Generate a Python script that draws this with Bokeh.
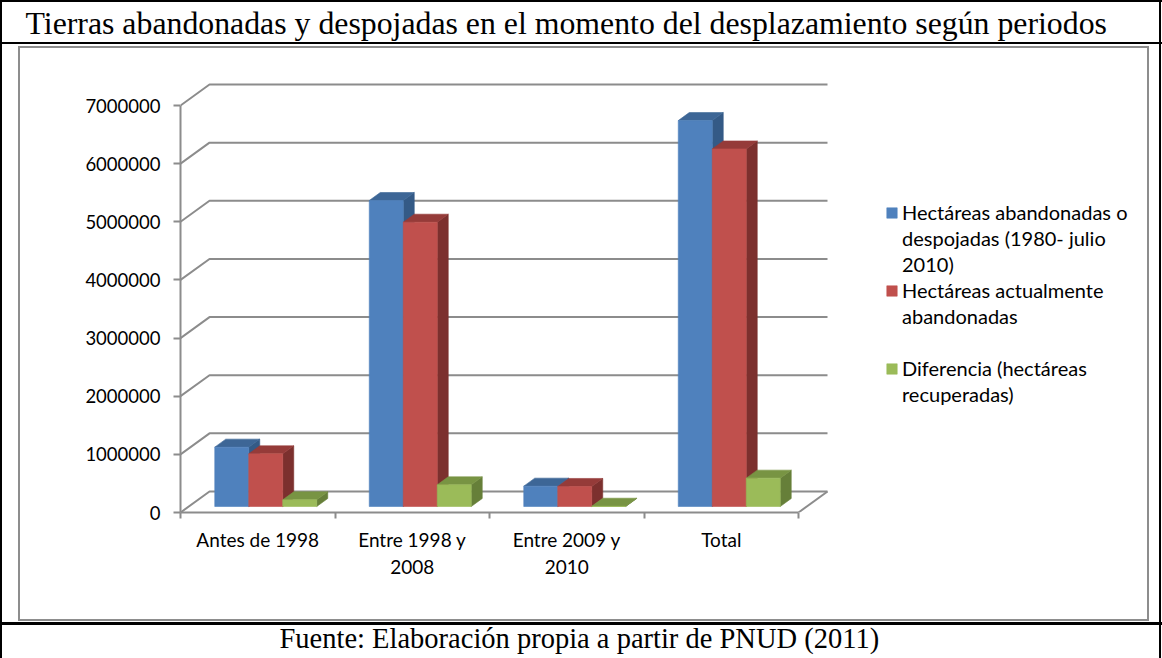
from bokeh.plotting import figure
from bokeh.models import (Range1d, FixedTicker, NumeralTickFormatter, Legend, LegendItem,
                          ColumnDataSource, Title)
from bokeh.embed import file_html
from bokeh.resources import INLINE

# ---------------- data ----------------
title_text = "Tierras abandonadas y despojadas en el momento del desplazamiento según periodos"
source_text = "Fuente: Elaboración propia a partir de PNUD (2011)"

categories = ["Antes de 1998", "Entre 1998 y\n2008", "Entre 2009 y\n2010", "Total"]
abandonadas = [1021000, 5263000, 350000, 6638000]
actuales = [906000, 4890000, 345000, 6150000]
diferencia = [115000, 373000, 5000, 488000]
y_ticks = [0, 1000000, 2000000, 3000000, 4000000, 5000000, 6000000, 7000000]

legend_blue = ["Hectáreas abandonadas o", "despojadas (1980- julio", "2010)"]
legend_red = ["Hectáreas actualmente", "abandonadas", " "]
legend_green = ["Diferencia (hectáreas", "recuperadas)"]

# ---------------- layout constants (pixels) ----------------
W, H = 1162, 658
FL, FR, FT, FB = 180, 1146, 44, 512          # frame edges
PX_PER_CAT = 154.5
PX_PER_UNIT = 58.14e-6

def dx(px):
    return px / PX_PER_CAT

def dy(px):
    return px / PX_PER_UNIT

XMAX = (FR - FL) / PX_PER_CAT
YMAX = (FB - FT) / PX_PER_UNIT
n = len(categories)

GRID = "#8c8c8c"
FONT = "Lato"

p = figure(width=W, height=H, output_backend="svg", toolbar_location=None,
           x_range=Range1d(0, XMAX), y_range=Range1d(0, YMAX),
           min_border_left=FL, min_border_right=W - FR,
           min_border_top=FT, min_border_bottom=H - FB)
p.outline_line_color = None
p.xgrid.visible = False
p.ygrid.visible = False
p.background_fill_color = None
p.border_fill_color = None

# table frame of the document (black) and chart area border (grey), drawn as page styling
rules = [
    (0, 0, 2, H, "#000000"),
    (0, 0, W, 2, "#000000"),
    (1159, 0, 2, H, "#000000"),
    (0, 42, W, 2, "#000000"),
    (0, 622, W, 3, "#000000"),
    (18, 46, 1131, 2, "#8d8d8d"),
    (18, 619, 1131, 2, "#8d8d8d"),
    (18, 46, 2, 575, "#8d8d8d"),
    (1147, 46, 2, 575, "#8d8d8d"),
]
p.styles = {
    "background-color": "white",
    "background-repeat": "no-repeat",
    "background-image": ", ".join(f"linear-gradient({c}, {c})" for *_, c in rules),
    "background-position": ", ".join(f"{x}px {y}px" for x, y, *_ in rules),
    "background-size": ", ".join(f"{w}px {h}px" for _, _, w, h, _ in rules),
}

# ---------------- title and source ----------------
p.add_layout(Title(text=title_text, align="left", offset=25 - FL, standoff=7,
                   vertical_align="bottom", text_font="Liberation Serif",
                   text_font_size="31.8px", text_font_style="normal",
                   text_color="black"), "above")

# ---------------- y axis ----------------
ya = p.yaxis[0]
ya.ticker = FixedTicker(ticks=y_ticks, minor_ticks=[])
ya.formatter = NumeralTickFormatter(format="0")
ya.bounds = (0, y_ticks[-1])
ya.axis_line_color = GRID
ya.axis_line_width = 2
ya.major_tick_line_color = GRID
ya.major_tick_line_width = 2
ya.major_tick_out = 7
ya.major_tick_in = 0
ya.minor_tick_line_color = None
ya.major_label_standoff = 13
ya.major_label_text_font = FONT
ya.major_label_text_font_size = "18.5px"
ya.major_label_text_color = "#000000"

# ---------------- x axis ----------------
xa = p.xaxis[0]
centers = [i + 0.5 for i in range(n)]
xa.ticker = FixedTicker(ticks=centers, minor_ticks=list(range(n + 1)))
xa.major_label_overrides = {c: lab for c, lab in zip(centers, categories)}
xa.bounds = (0, n)
xa.axis_line_color = GRID
xa.axis_line_width = 2
xa.major_tick_line_color = None
xa.major_tick_out = 0
xa.major_tick_in = 0
xa.minor_tick_line_color = GRID
xa.minor_tick_line_width = 2
xa.minor_tick_out = 6
xa.minor_tick_in = 0
xa.major_label_standoff = 9
xa.major_label_text_font = FONT
xa.major_label_text_font_size = "19px"
xa.major_label_text_color = "#000000"
xa.axis_label = " "
xa.axis_label_standoff = 17
xa.axis_label_text_font_size = "19px"

p.add_layout(Title(text=source_text, align="left", offset=279 - FL, standoff=0,
                   vertical_align="top", text_font="Liberation Serif",
                   text_font_size="28.5px", text_font_style="normal",
                   text_color="black"), "below")

# ---------------- back wall grid lines and floor ----------------
wdx, wdy = dx(29), dy(21)
gxs, gys = [], []
for v in y_ticks:
    gxs.append([0, wdx, n + wdx])
    gys.append([v, v + wdy, v + wdy])
gxs.append([n, n + wdx])
gys.append([0, wdy])
p.multi_line(xs=gxs, ys=gys, line_color=GRID, line_width=2)

# ---------------- 3D bars ----------------
bar_w = 0.22
gap = (1 - 3 * bar_w) / 2
ox, oy = dx(8), dy(6)
bdx, bdy = dx(11), dy(8)

series = [
    (abandonadas, "#4F81BD", "#3D6696", "#345A86"),
    (actuales, "#C0504D", "#953B39", "#7C302E"),
    (diferencia, "#9BBB59", "#789443", "#667F39"),
]
fronts = []
for j, (vals, c_front, c_top, c_side) in enumerate(series):
    left = [i + gap + j * bar_w + ox for i in range(n)]
    right = [l + bar_w for l in left]
    bottom = [oy] * n
    top = [oy + v for v in vals]
    side_xs = [[r, r + bdx, r + bdx, r] for r in right]
    side_ys = [[b, b + bdy, t + bdy, t] for b, t in zip(bottom, top)]
    top_xs = [[l, r, r + bdx, l + bdx] for l, r in zip(left, right)]
    top_ys = [[t, t, t + bdy, t + bdy] for t in top]
    p.patches(xs=side_xs, ys=side_ys, fill_color=c_side, line_color=c_side, line_width=0.6)
    p.patches(xs=top_xs, ys=top_ys, fill_color=c_top, line_color=c_top, line_width=0.6)
    src = ColumnDataSource(dict(left=left, right=right, bottom=bottom, top=top))
    fr = p.quad(left="left", right="right", bottom="bottom", top="top", source=src,
                fill_color=c_front, line_color=c_front, line_width=0.6)
    fronts.append(fr)

blank = p.quad(left=[0], right=[0], bottom=[0], top=[0], fill_alpha=0, line_alpha=0)

# ---------------- legend ----------------
items = []
for lines, rend in ((legend_blue, fronts[0]), (legend_red, fronts[1]), (legend_green, fronts[2])):
    for k, line in enumerate(lines):
        items.append(LegendItem(label=line, renderers=[rend if k == 0 else blank]))
legend = Legend(items=items, location=(885 - FL, FB - 199 - 26 * len(items)),
                orientation="vertical", padding=0, margin=0, spacing=0,
                label_height=26, glyph_height=13, glyph_width=13, label_standoff=4,
                border_line_color=None, background_fill_alpha=0,
                label_text_font=FONT, label_text_font_size="20px",
                label_text_color="#000000")
p.add_layout(legend)

open("out.html", "w").write(file_html(p, INLINE))
